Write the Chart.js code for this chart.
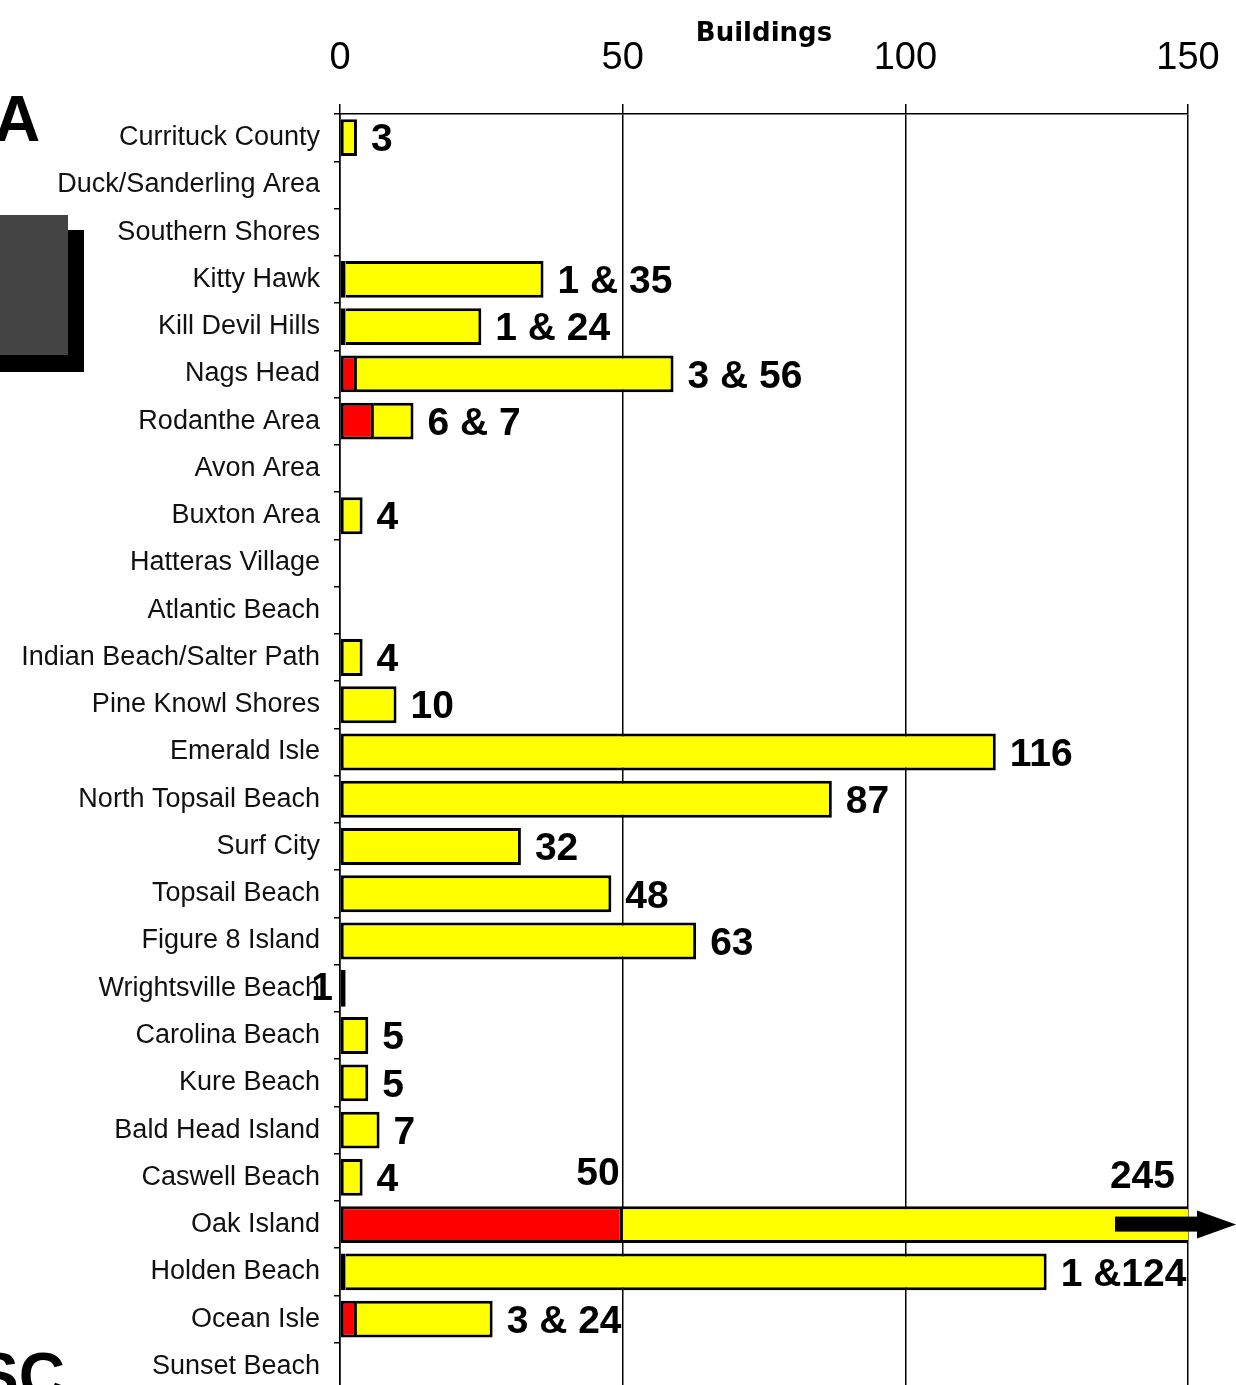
<!DOCTYPE html>
<html><head><meta charset="utf-8">
<script src="https://cdn.jsdelivr.net/npm/chart.js@4.4.1/dist/chart.umd.min.js"></script>
<style>html,body{margin:0;padding:0;background:#fff;overflow:hidden}#wrap{position:relative;width:1236px;height:1390px}</style>
</head><body><div id="wrap"><canvas id="c"></canvas></div>
<script>
const categories = ['Currituck County','Duck/Sanderling Area','Southern Shores','Kitty Hawk','Kill Devil Hills','Nags Head','Rodanthe Area','Avon Area','Buxton Area','Hatteras Village','Atlantic Beach','Indian Beach/Salter Path','Pine Knowl Shores','Emerald Isle','North Topsail Beach','Surf City','Topsail Beach','Figure 8 Island','Wrightsville Beach','Carolina Beach','Kure Beach','Bald Head Island','Caswell Beach','Oak Island','Holden Beach','Ocean Isle','Sunset Beach'];
const redValues    = [null,null,null,1,1,3,6,null,null,null,null,null,null,null,null,null,null,null,null,null,null,null,null,50,1,3,null];
const yellowValues = [3,null,null,35,24,56,7,null,4,null,null,4,10,116,87,32,48,63,1,5,5,7,4,245,124,24,null];
const valueLabels  = ['3','','','1 & 35','1 & 24','3 & 56','6 & 7','','4','','','4','10','116','87','32','48','63','1','5','5','7','4','245','1 &124','3 & 24',''];
const xTicks = [0,50,100,150];
const xTitle = 'Buildings';
const labelsLeftOfAxis = ['Wrightsville Beach'];

const SANS = '"Liberation Sans", Arial, sans-serif';

const annot = {
  id: 'annot',
  afterDatasetsDraw(chart) {
    const {ctx, chartArea, scales: {x, y}} = chart;
    const mY = chart.getDatasetMeta(1);
    const thick = mY.data[0].height;
    ctx.save();
    ctx.fillStyle = '#000';
    ctx.font = 'bold 39px ' + SANS;
    ctx.textBaseline = 'middle';
    categories.forEach((cat, i) => {
      const txt = valueLabels[i];
      if (!txt) return;
      const r = redValues[i] || 0, yv = yellowValues[i] || 0;
      const total = r + yv;
      const yc = y.getPixelForValue(i);
      const top = yc - thick / 2;
      if (total > x.max) {
        ctx.textAlign = 'right';
        if (r) ctx.fillText(String(r), x.getPixelForValue(r) - 3, top - 32);
        ctx.fillText(txt, chartArea.right - 13, top - 29);
        ctx.fillRect(chartArea.right - 73, yc - 8, 84, 15);
        ctx.beginPath();
        ctx.moveTo(chartArea.right + 9, yc - 14);
        ctx.lineTo(chart.width, yc);
        ctx.lineTo(chartArea.right + 9, yc + 14);
        ctx.closePath();
        ctx.fill();
      } else if (labelsLeftOfAxis.includes(cat)) {
        ctx.textAlign = 'right';
        ctx.fillText(txt, chartArea.left - 7, yc + 1);
      } else {
        ctx.textAlign = 'left';
        ctx.fillText(txt, x.getPixelForValue(total) + 14, yc + 3);
      }
    });
    ctx.restore();
  }
};

const deco = {
  id: 'deco',
  afterDraw(chart) {
    const ctx = chart.ctx;
    ctx.save();
    ctx.fillStyle = '#000';
    ctx.fillRect(0, 230, 84, 142);
    ctx.fillStyle = '#444';
    ctx.fillRect(0, 215, 68, 140);
    ctx.fillStyle = '#000';
    ctx.font = 'bold 64px ' + SANS;
    ctx.textBaseline = 'alphabetic';
    ctx.textAlign = 'left';
    ctx.fillText('A', -6, 141);
    ctx.fillText('SC', -24, 1398);
    ctx.restore();
  }
};

new Chart(document.getElementById('c'), {
  type: 'bar',
  data: {
    labels: categories,
    datasets: [
      {label: 'Red', data: redValues, backgroundColor: '#ff0000', borderColor: '#000', borderWidth: 3, borderSkipped: false},
      {label: 'Yellow', data: yellowValues, backgroundColor: '#ffff00', borderColor: '#000', borderWidth: 3,
       borderSkipped: (c) => (redValues[c.dataIndex] ? 'start' : false)}
    ]
  },
  options: {
    indexAxis: 'y',
    responsive: true,
    maintainAspectRatio: false,
    animation: false,
    events: [],
    barPercentage: 0.78,
    categoryPercentage: 1,
    layout: {padding: {top: 0, left: 0, right: 48, bottom: 0}},
    plugins: {legend: {display: false}, tooltip: {enabled: false}},
    scales: {
      x: {
        position: 'top', stacked: true, min: 0, max: 150,
        afterBuildTicks: (s) => { s.ticks = xTicks.map(v => ({value: v})); },
        afterFit: (s) => { s.paddingLeft = 0; s.paddingRight = 0; },
        ticks: {color: '#000', font: {family: SANS, size: 38, lineHeight: 1}, padding: 26},
        grid: {color: '#000', lineWidth: 1.5, drawTicks: true, tickLength: 10},
        border: {display: true, color: '#000', width: 1.5},
        title: {display: true, text: xTitle, color: '#000',
                font: {family: '"DejaVu Sans", sans-serif', size: 26, weight: 'bold', lineHeight: 1},
                padding: {top: 21, bottom: -33}}
      },
      y: {
        stacked: true,
        afterFit: (s) => { s.width = 340; s.paddingTop = 0; s.paddingBottom = 0; },
        ticks: {color: '#111', font: {family: SANS, size: 27}, padding: 14},
        grid: {drawOnChartArea: false, drawTicks: true, tickLength: 6, color: '#000', lineWidth: 1.5},
        border: {display: true, color: '#000', width: 1.5}
      }
    }
  },
  plugins: [annot, deco]
});
</script>
</body></html>
